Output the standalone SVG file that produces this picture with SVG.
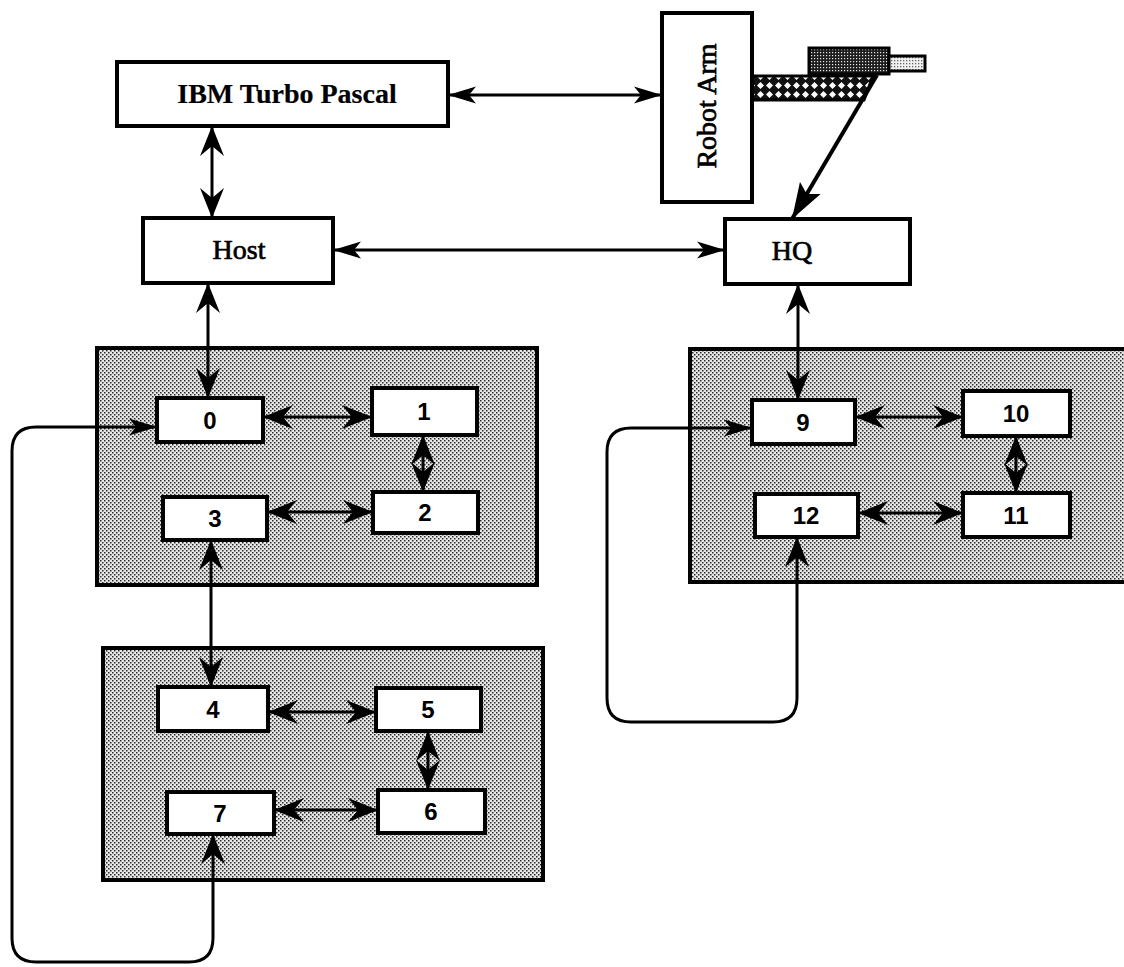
<svg xmlns="http://www.w3.org/2000/svg" width="1124" height="967" viewBox="0 0 1124 967">
  <defs>
    <!-- halftone used for the processor clusters -->
    <pattern id="dots" width="4" height="4" patternUnits="userSpaceOnUse">
      <rect width="4" height="4" fill="#e6e6e6"/>
      <rect x="0" y="0" width="1.5" height="1.5" fill="#2a2a2a"/>
      <rect x="2" y="2" width="1.5" height="1.5" fill="#2a2a2a"/>
    </pattern>
    <!-- dense dark dots for the gripper housing -->
    <pattern id="dark" width="3" height="3" patternUnits="userSpaceOnUse">
      <rect width="3" height="3" fill="#1e1e1e"/>
      <rect x="1" y="1" width="1.2" height="1.2" fill="#e8e8e8"/>
    </pattern>
    <!-- light dots for the gripper tip -->
    <pattern id="light" width="3" height="3" patternUnits="userSpaceOnUse">
      <rect width="3" height="3" fill="#f2f2f2"/>
      <rect x="0" y="0" width="1.3" height="1.3" fill="#666"/>
    </pattern>
    <!-- diamond crosshatch for the arm segment -->
    <pattern id="xhatch" width="9" height="9" patternUnits="userSpaceOnUse">
      <rect width="9" height="9" fill="#111"/>
      <polygon points="4.5,1 8,4.5 4.5,8 1,4.5" fill="#fff"/>
    </pattern>

    <marker id="ah" viewBox="-30 -12 30 24" refX="0" refY="0" markerWidth="30" markerHeight="24"
            orient="auto-start-reverse" markerUnits="userSpaceOnUse">
      <path d="M0,0 L-30,-12 L-20,0 L-30,12 Z" fill="#000"/>
    </marker>
    <marker id="ahn" viewBox="-28 -9 28 18" refX="0" refY="0" markerWidth="28" markerHeight="18"
            orient="auto-start-reverse" markerUnits="userSpaceOnUse">
      <path d="M0,0 L-28,-8.5 L-21,0 L-28,8.5 Z" fill="#000"/>
    </marker>
    <marker id="ahb" viewBox="-36 -13 36 26" refX="0" refY="0" markerWidth="36" markerHeight="26"
            orient="auto" markerUnits="userSpaceOnUse">
      <path d="M0,0 L-36,-12 L-29,0 L-36,12 Z" fill="#000"/>
    </marker>

    <style>
      .box { fill: #fff; stroke: #000; stroke-width: 4; }
      .node { fill: #fff; stroke: #000; stroke-width: 4; }
      .cluster { fill: url(#dots); stroke: #000; stroke-width: 4; }
      .serif { font-family: "Liberation Serif", "Times New Roman", serif; font-size: 28px; fill: #000; stroke: #000; stroke-width: 0.7; text-anchor: middle; }
      .title { font-weight: bold; stroke-width: 0.2; }
      .num { font-family: "Liberation Sans", Arial, sans-serif; font-size: 24px; font-weight: bold; fill: #000; text-anchor: middle; }
      .link { fill: none; stroke: #000; stroke-width: 3; marker-start: url(#ah); marker-end: url(#ah); }
      .thin { fill: none; stroke: #000; stroke-width: 3; marker-start: url(#ahn); marker-end: url(#ahn); }
      .loop { fill: none; stroke: #000; stroke-width: 3; marker-start: url(#ah); marker-end: url(#ahn); }
    </style>
  </defs>

  <rect width="1124" height="967" fill="#fff"/>

  <!-- processor clusters -->
  <g id="clusters">
    <rect id="cluster-a" class="cluster" x="97" y="348" width="440" height="237"/>
    <rect id="cluster-b" class="cluster" x="103" y="648" width="440" height="232"/>
    <rect id="cluster-c" class="cluster" x="690" y="349" width="440" height="233"/>
  </g>

  <!-- gripper drawing on the robot arm -->
  <g id="gripper">
    <polygon points="752,76 873,76 864,100 752,100" fill="url(#xhatch)" stroke="#000" stroke-width="3"/>
    <rect x="809" y="48" width="80" height="26" fill="url(#dark)" stroke="#000" stroke-width="3"/>
    <rect x="889" y="56" width="36" height="15" fill="url(#light)" stroke="#000" stroke-width="3"/>
  </g>

  <g id="connectors">
    <line class="link" x1="212" y1="126" x2="212" y2="218"/>
    <line class="thin" x1="448" y1="95" x2="662" y2="95"/>
    <line class="thin" x1="333" y1="250" x2="725" y2="250"/>
    <line class="link" x1="208" y1="283" x2="208" y2="398"/>
    <line class="link" x1="798" y1="284" x2="798" y2="400"/>
    <line x1="877" y1="75" x2="792" y2="219" stroke="#000" stroke-width="4" marker-end="url(#ahb)"/>

    <line class="link" x1="263" y1="417" x2="372" y2="417"/>
    <line class="link" x1="423" y1="435" x2="423" y2="492"/>
    <line class="link" x1="267" y1="512" x2="373" y2="512"/>
    <line class="link" x1="211" y1="540" x2="211" y2="687"/>

    <line class="link" x1="268" y1="712" x2="376" y2="712"/>
    <line class="link" x1="428" y1="731" x2="428" y2="790"/>
    <line class="link" x1="274" y1="810" x2="378" y2="810"/>

    <line class="link" x1="855" y1="417" x2="963" y2="417"/>
    <line class="link" x1="1016" y1="436" x2="1016" y2="493"/>
    <line class="link" x1="858" y1="513" x2="963" y2="513"/>

    <path class="loop" d="M213,834 L213,938 Q213,962 189,962 L36,962 Q12,962 12,938 L12,451 Q12,427 36,427 L157,427"/>
    <path class="loop" d="M797,537 L797,698 Q797,722 773,722 L631,722 Q607,722 607,698 L607,452 Q607,428 631,428 L752,428"/>
  </g>

  <g id="ibm">
    <rect class="box" x="117" y="62" width="331" height="64"/>
    <text class="serif title" x="287" y="103" font-size="30">IBM Turbo Pascal</text>
  </g>
  <g id="robot-arm">
    <rect class="box" x="662" y="13" width="90" height="189"/>
    <text class="serif" transform="translate(716,106) rotate(-90)" font-size="28">Robot Arm</text>
  </g>
  <g id="host">
    <rect class="box" x="143" y="218" width="190" height="65"/>
    <text class="serif" x="239" y="259" font-size="29">Host</text>
  </g>
  <g id="hq">
    <rect class="box" x="725" y="219" width="185" height="65"/>
    <text class="serif" x="792" y="260" font-size="29">HQ</text>
  </g>

  <g id="n0"><rect class="node" x="157" y="398" width="106" height="44"/><text class="num" x="210" y="429">0</text></g>
  <g id="n1"><rect class="node" x="372" y="388" width="105" height="47"/><text class="num" x="424" y="420">1</text></g>
  <g id="n2"><rect class="node" x="373" y="492" width="105" height="41"/><text class="num" x="425" y="521">2</text></g>
  <g id="n3"><rect class="node" x="163" y="497" width="104" height="43"/><text class="num" x="215" y="527">3</text></g>
  <g id="n4"><rect class="node" x="158" y="687" width="110" height="44"/><text class="num" x="213" y="718">4</text></g>
  <g id="n5"><rect class="node" x="376" y="688" width="105" height="43"/><text class="num" x="428" y="718">5</text></g>
  <g id="n6"><rect class="node" x="378" y="790" width="107" height="43"/><text class="num" x="431" y="820">6</text></g>
  <g id="n7"><rect class="node" x="167" y="792" width="107" height="42"/><text class="num" x="220" y="822">7</text></g>
  <g id="n9"><rect class="node" x="752" y="400" width="103" height="44"/><text class="num" x="803" y="431">9</text></g>
  <g id="n10"><rect class="node" x="963" y="391" width="107" height="45"/><text class="num" x="1016" y="422">10</text></g>
  <g id="n11"><rect class="node" x="963" y="493" width="107" height="44"/><text class="num" x="1016" y="524">11</text></g>
  <g id="n12"><rect class="node" x="755" y="494" width="103" height="43"/><text class="num" x="806" y="524">12</text></g>
</svg>
